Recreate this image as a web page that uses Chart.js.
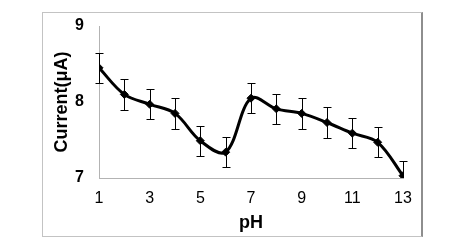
<!DOCTYPE html>
<html>
<head>
<meta charset="utf-8">
<script src="https://cdn.jsdelivr.net/npm/chart.js@4.4.1/dist/chart.umd.min.js"></script>
<style>
  html, body { margin: 0; padding: 0; background: #fff; }
  #wrap { position: relative; width: 452px; height: 246px; }
  #frame {
    position: absolute; left: 42px; top: 12px; width: 378px; height: 223px;
    border: 1px solid #c3c3c3; border-right: 2px solid #8e8e8e;
  }
  #chart { position: absolute; left: 0; top: 0; }
</style>
</head>
<body>
<div id="wrap">
  <div id="frame"></div>
  <canvas id="chart" width="452" height="246"></canvas>
</div>
<script>
  'use strict';

  // values
  var phValues = [1, 2, 3, 4, 5, 6, 7, 8, 9, 10, 11, 12, 13];
  var currentValues = [8.45, 8.10, 7.97, 7.85, 7.49, 7.34, 8.05, 7.91, 7.85, 7.73, 7.59, 7.47, 7.03];
  var errorValues = [0.2, 0.2, 0.2, 0.2, 0.2, 0.2, 0.2, 0.2, 0.2, 0.2, 0.2, 0.2, 0.2];
  var xTickValues = [1, 3, 5, 7, 9, 11, 13];
  var yTickValues = [7, 8, 9];

  var fontFamily = '"Liberation Sans", Arial, sans-serif';
  var axisColor = '#b3b3b3';

  // vertical error bars with caps, under the line
  var errorBarsPlugin = {
    id: 'errorBars',
    beforeDatasetsDraw: function (chart) {
      var ctx = chart.ctx;
      var xScale = chart.scales.x, yScale = chart.scales.y;
      var area = chart.chartArea;
      ctx.save();
      ctx.beginPath();
      ctx.rect(area.left - 10, area.top - 10, area.right - area.left + 20, area.bottom - area.top + 10);
      ctx.clip();
      ctx.strokeStyle = '#000';
      ctx.lineWidth = 1;
      phValues.forEach(function (ph, i) {
        var px = Math.round(xScale.getPixelForValue(ph)) + 0.5;
        var top = Math.round(yScale.getPixelForValue(currentValues[i] + errorValues[i])) + 0.5;
        var bottom = Math.round(yScale.getPixelForValue(currentValues[i] - errorValues[i])) + 0.5;
        ctx.beginPath();
        ctx.moveTo(px, top);
        ctx.lineTo(px, bottom);
        ctx.moveTo(px - 4, top);
        ctx.lineTo(px + 4, top);
        ctx.moveTo(px - 4, bottom);
        ctx.lineTo(px + 4, bottom);
        ctx.stroke();
      });
      ctx.restore();
    }
  };

  var points = phValues.map(function (ph, i) {
    return { x: ph, y: currentValues[i] };
  });

  var ctx = document.getElementById('chart').getContext('2d');
  window.phChart = new Chart(ctx, {
    type: 'line',
    data: {
      datasets: [{
        data: points,
        borderColor: '#000',
        borderWidth: 3,
        tension: 0.35,
        pointStyle: 'rectRot',
        pointRadius: 4,
        pointBackgroundColor: '#000',
        pointBorderColor: '#000',
        pointBorderWidth: 1,
        fill: false
      }]
    },
    plugins: [errorBarsPlugin],
    options: {
      responsive: false,
      animation: false,
      layout: { padding: { top: 26, right: 49, bottom: 0, left: 0 } },
      plugins: {
        legend: { display: false },
        tooltip: { enabled: false }
      },
      scales: {
        x: {
          type: 'linear',
          min: 1,
          max: 13,
          afterFit: function (scale) { scale.height = 68; },
          afterBuildTicks: function (scale) {
            scale.ticks = xTickValues.map(function (v) { return { value: v }; });
          },
          grid: { color: 'transparent', drawTicks: false },
          border: { color: axisColor, width: 1 },
          ticks: {
            padding: 11,
            color: '#000',
            font: { family: fontFamily, size: 16 }
          },
          title: {
            display: true,
            text: 'pH',
            color: '#000',
            padding: { top: 0, bottom: 12 },
            font: { family: fontFamily, size: 18, weight: 'bold' }
          }
        },
        y: {
          min: 7,
          max: 9,
          afterFit: function (scale) { scale.width = 99; },
          afterBuildTicks: function (scale) {
            scale.ticks = yTickValues.map(function (v) { return { value: v }; });
          },
          grid: { color: 'transparent', drawTicks: false },
          border: { color: axisColor, width: 1 },
          ticks: {
            padding: 15,
            color: '#000',
            font: { family: fontFamily, size: 16, weight: 'bold' }
          },
          title: {
            display: true,
            text: 'Current(μA)',
            color: '#000',
            padding: { top: 51, bottom: 0 },
            font: { family: fontFamily, size: 18, weight: 'bold' }
          }
        }
      }
    }
  });
</script>
</body>
</html>
